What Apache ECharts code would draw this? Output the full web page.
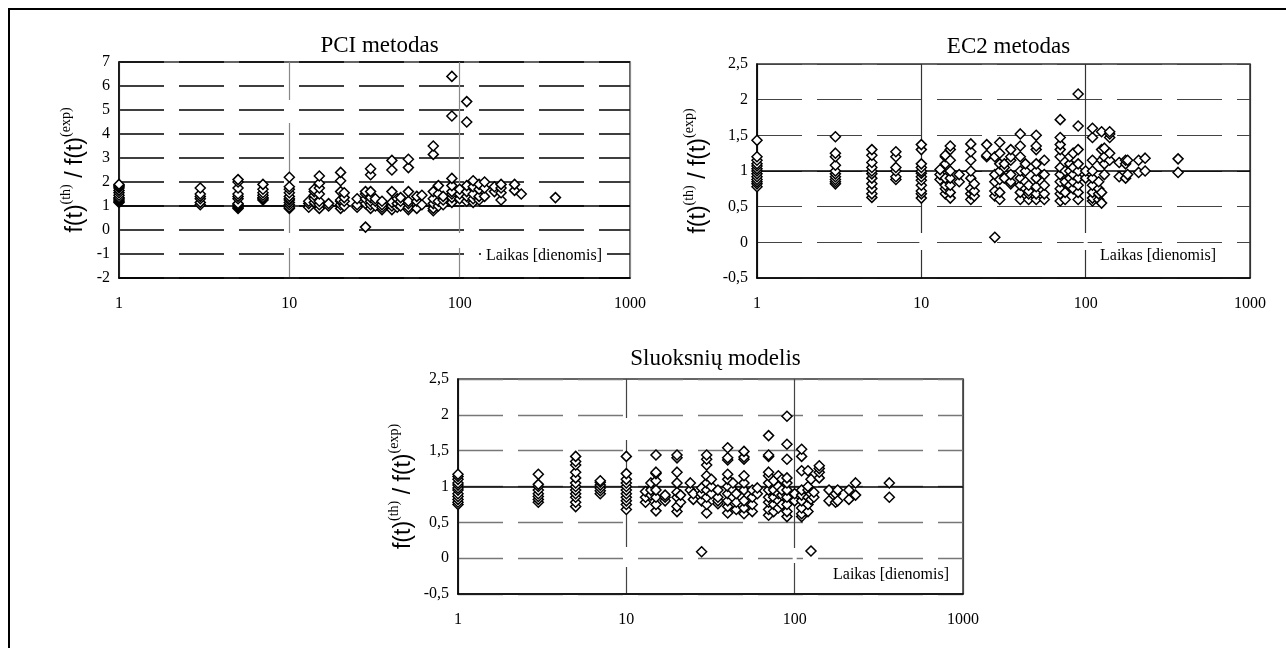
<!DOCTYPE html>
<html>
<head>
<meta charset="utf-8">
<script src="https://cdn.jsdelivr.net/npm/echarts@6/dist/echarts.min.js"></script>
<style>
html, body { margin: 0; padding: 0; background: #fff; }
#charts { width: 1286px; height: 648px; }
</style>
</head>
<body>
<div id="charts"></div>
<script>
// ---- data: days (x) and ratio values (y) ----
var titles = ['PCI metodas', 'EC2 metodas', 'Sluoksnių modelis'];
var xTicks = [1, 10, 100, 1000];

var pciDays = [1, 3, 5, 7, 10, 13, 14, 15, 17, 20, 21, 25, 28, 30, 32, 35, 40, 43, 45, 50, 56, 60, 70, 75, 80, 90, 100, 110, 120, 130, 140, 160, 175, 210, 230, 365];
var pciVals = [
    [1.15, 1.2, 1.25, 1.3, 1.35, 1.45, 1.55, 1.65, 1.75, 1.8, 1.85, 1.9],
    [1.05, 1.15, 1.3, 1.4, 1.5, 1.75],
    [0.9, 0.95, 1.0, 1.05, 1.1, 1.3, 1.4, 1.5, 1.75, 2.0, 2.1],
    [1.25, 1.3, 1.35, 1.45, 1.55, 1.7, 1.9],
    [0.9, 0.95, 1.05, 1.15, 1.25, 1.3, 1.4, 1.55, 1.7, 1.8, 2.2],
    [0.95, 1.1, 1.2],
    [1.15, 1.3, 1.45, 1.6, 1.7],
    [0.9, 1.05, 1.2, 1.5, 1.75, 1.95, 2.25],
    [1.0, 1.1],
    [0.9, 1.05, 1.2, 1.25, 1.6, 2.05, 2.4],
    [1.0, 1.2, 1.35, 1.55],
    [0.95, 1.05, 1.3],
    [0.12, 1.1, 1.3, 1.5, 1.6],
    [0.9, 1.05, 1.2, 1.35, 1.6, 2.3, 2.55],
    [1.0, 1.2, 1.3],
    [0.85, 0.95, 1.05, 1.2],
    [0.85, 1.0, 1.15, 1.6, 2.5, 2.9],
    [0.95, 1.1, 1.3],
    [1.0, 1.2, 1.35],
    [0.85, 0.95, 1.1, 1.2, 1.6, 2.6, 2.95],
    [0.9, 1.2, 1.4],
    [1.05, 1.45],
    [0.8, 0.9, 1.1, 1.3, 1.6, 3.15, 3.5],
    [1.0, 1.2, 1.5, 1.85],
    [1.05, 1.25, 1.4],
    [1.15, 1.35, 1.5, 1.6, 1.85, 2.15, 4.75, 6.4],
    [1.3, 1.5, 1.7],
    [1.2, 1.4, 1.6, 1.85, 4.5, 5.35],
    [1.15, 1.3, 1.5, 1.8, 2.05],
    [1.25, 1.4, 1.7, 1.9],
    [1.4, 1.75, 2.0],
    [1.6, 1.8],
    [1.25, 1.55, 1.75, 1.9],
    [1.65, 1.9],
    [1.5],
    [1.35]
];

var ec2Days = [1, 3, 5, 7, 10, 13, 14, 15, 17, 20, 21, 25, 28, 30, 32, 35, 40, 43, 45, 50, 56, 70, 75, 80, 84, 90, 100, 110, 120, 125, 130, 140, 160, 175, 180, 210, 230, 365];
var ec2Vals = [
    [0.78, 0.82, 0.85, 0.88, 0.92, 0.96, 1.0, 1.03, 1.07, 1.1, 1.15, 1.2, 1.43],
    [0.82, 0.85, 0.88, 0.92, 0.96, 1.0, 1.08, 1.2, 1.25, 1.48],
    [0.63, 0.68, 0.75, 0.82, 0.9, 0.96, 1.0, 1.05, 1.12, 1.22, 1.3],
    [0.88, 0.92, 1.0, 1.05, 1.2, 1.27],
    [0.62, 0.68, 0.72, 0.8, 0.87, 0.92, 0.97, 1.0, 1.05, 1.1, 1.3, 1.37],
    [0.88, 0.95, 1.02],
    [0.68, 0.75, 0.8, 0.9, 1.1, 1.2, 1.22],
    [0.62, 0.7, 0.8, 0.9, 1.0, 1.15, 1.3, 1.35],
    [0.85, 0.95],
    [0.6, 0.68, 0.75, 0.9, 1.0, 1.15, 1.27, 1.38],
    [0.65, 0.72, 0.82],
    [1.2, 1.22, 1.37],
    [0.07, 0.65, 0.72, 0.85, 0.95, 1.2],
    [0.6, 0.7, 0.88, 1.0, 1.1, 1.25, 1.4],
    [0.9, 1.05, 1.1],
    [0.82, 0.85, 0.95, 1.15, 1.2, 1.3],
    [0.6, 0.7, 0.8, 0.9, 1.0, 1.2, 1.35, 1.52],
    [0.75, 0.85, 1.0, 1.1],
    [0.6, 0.68, 0.72, 0.8],
    [0.6, 0.68, 0.78, 0.9, 1.0, 1.1, 1.3, 1.35, 1.5],
    [0.6, 0.68, 0.8, 0.95, 1.15],
    [0.58, 0.68, 0.75, 0.85, 0.95, 1.05, 1.2, 1.3, 1.37, 1.47, 1.72],
    [0.6, 0.7, 0.85, 1.0],
    [0.8, 0.9, 1.0, 1.1, 1.2],
    [0.75, 0.85, 0.95, 1.05, 1.25],
    [0.6, 0.7, 0.8, 0.9, 1.0, 1.1, 1.3, 1.63, 2.08],
    [0.9, 1.0],
    [0.58, 0.62, 0.7, 0.8, 0.9, 1.0, 1.15, 1.47, 1.6],
    [0.6, 0.68, 0.75, 0.85],
    [0.55, 0.7, 1.15, 1.3, 1.55],
    [0.95, 1.1, 1.2, 1.32],
    [1.15, 1.25, 1.47, 1.52, 1.55],
    [0.92, 1.12],
    [0.9, 1.1, 1.15],
    [0.95, 1.15],
    [0.98, 1.15],
    [1.0, 1.18],
    [0.98, 1.17]
];

var slDays = [1, 3, 5, 7, 10, 13, 14, 15, 17, 20, 21, 24, 25, 28, 30, 32, 35, 40, 43, 45, 50, 56, 60, 70, 75, 80, 84, 90, 100, 110, 120, 125, 130, 140, 160, 175, 180, 210, 230, 365];
var slVals = [
    [0.75, 0.78, 0.82, 0.86, 0.9, 0.95, 0.98, 1.02, 1.05, 1.1, 1.14, 1.17],
    [0.78, 0.82, 0.86, 0.9, 0.95, 1.0, 1.03, 1.17],
    [0.72, 0.78, 0.85, 0.9, 0.95, 1.0, 1.05, 1.12, 1.2, 1.3, 1.35, 1.42],
    [0.9, 0.94, 0.98, 1.02, 1.06, 1.08],
    [0.68, 0.75, 0.8, 0.85, 0.9, 0.95, 1.0, 1.05, 1.1, 1.18, 1.42],
    [0.78, 0.85, 0.93],
    [0.88, 0.95, 1.05],
    [0.66, 0.75, 0.85, 0.95, 1.08, 1.18, 1.2, 1.44],
    [0.8, 0.85, 0.88],
    [0.65, 0.72, 0.85, 0.92, 1.05, 1.2, 1.4, 1.44],
    [0.78, 0.88],
    [0.95, 1.05],
    [0.82, 0.9],
    [0.09, 0.8, 0.9, 0.98],
    [0.63, 0.75, 0.85, 0.95, 1.05, 1.15, 1.3, 1.38, 1.44],
    [0.9, 1.0, 1.1],
    [0.76, 0.8, 0.85, 0.95],
    [0.63, 0.72, 0.8, 0.9, 1.0, 1.1, 1.17, 1.37, 1.4, 1.54],
    [0.85, 0.95, 1.05],
    [0.68, 0.78, 0.9],
    [0.62, 0.7, 0.8, 0.95, 1.05, 1.15, 1.38, 1.41, 1.49],
    [0.65, 0.75, 0.85, 0.95],
    [0.9, 0.98],
    [0.6, 0.68, 0.78, 0.85, 0.95, 1.05, 1.15, 1.2, 1.42, 1.44, 1.71],
    [0.65, 0.75, 0.85, 0.95, 1.08],
    [0.7, 0.8, 0.9, 1.0, 1.15],
    [0.75, 0.88, 0.95, 1.1],
    [0.58, 0.65, 0.75, 0.85, 0.95, 1.05, 1.12, 1.38, 1.59, 1.98],
    [0.8, 0.9],
    [0.58, 0.62, 0.7, 0.8, 0.88, 0.95, 1.22, 1.42, 1.52],
    [0.65, 0.75, 0.85, 0.95, 1.0, 1.22],
    [0.1, 0.82, 0.9, 1.1],
    [0.85, 0.92],
    [1.12, 1.2, 1.25, 1.29],
    [0.8, 0.95],
    [0.78, 0.9],
    [0.8, 0.95],
    [0.82, 0.95],
    [0.88, 1.05],
    [0.85, 1.05]
];

var myChart = echarts.init(document.getElementById('charts'));

function points(days, vals) {
    var out = [];
    for (var i = 0; i < days.length; i++) {
        for (var j = 0; j < vals[i].length; j++) {
            out.push([days[i], vals[i][j]]);
        }
    }
    return out;
}

var serif = 'Liberation Serif';
var grids = [
    { left: 119, top: 62, width: 511, height: 216 },
    { left: 757, top: 64, width: 493, height: 214 },
    { left: 458, top: 379, width: 505, height: 215 }
];
var titleTops = [29, 30, 342];
var yRanges = [[-2, 7, 1], [-0.5, 2.5, 0.5], [-0.5, 2.5, 0.5]];
var gridColor = ['#000', '#444', '#777'];
var gridWidth = [1.6, 1, 1.4];
var vColor = ['#888', '#333', '#444'];
var nameGaps = [32, 47, 43];
// breaks in the vertical 10/100 lines of the original: [panel, day, y from, y to]
var vGaps = [[0, 10, 100, 123], [0, 10, 233, 248], [0, 100, 233, 248],
             [1, 10, 233, 250], [1, 100, 233, 250],
             [2, 10, 418, 440], [2, 10, 547, 567], [2, 100, 548, 563]];

var yName = '{f|f(t)}{s|(th)}{f| / f(t)}{s|(exp)}';
var yRich = {
    f: { fontFamily: 'Liberation Sans', fontSize: 23, color: '#000', lineHeight: 28, verticalAlign: 'bottom' },
    s: { fontFamily: serif, fontSize: 14, color: '#000', lineHeight: 28, verticalAlign: 'top' }
};

var xAxes = [], yAxes = [], series = [], titleList = [];
var allData = [points(pciDays, pciVals), points(ec2Days, ec2Vals), points(slDays, slVals)];

for (var k = 0; k < 3; k++) {
    var g = grids[k];
    g.show = true;
    g.borderColor = '#333';
    g.borderWidth = 1.5;
    g.backgroundColor = '#fff';

    titleList.push({
        text: titles[k],
        left: g.left + g.width / 2,
        top: titleTops[k],
        textAlign: 'center',
        textStyle: { fontFamily: serif, fontSize: 23, fontWeight: 'normal', color: '#000' }
    });

    xAxes.push({
        type: 'log',
        logBase: 10,
        gridIndex: k,
        min: xTicks[0],
        max: xTicks[xTicks.length - 1],
        axisLine: { onZero: false, lineStyle: { color: '#000', width: 1.5 } },
        axisTick: { show: false },
        axisLabel: {
            margin: 18, fontFamily: serif, fontSize: 16, color: '#000',
            formatter: function (v) { return String(v); }
        },
        splitLine: { show: true, lineStyle: { color: vColor[k], width: 1.2, type: 'solid' } },
        minorSplitLine: { show: false }
    });

    yAxes.push({
        type: 'value',
        gridIndex: k,
        min: yRanges[k][0],
        max: yRanges[k][1],
        interval: yRanges[k][2],
        name: yName,
        nameLocation: 'middle',
        nameRotate: 90,
        nameGap: nameGaps[k],
        nameTextStyle: { rich: yRich },
        axisLine: { show: true, lineStyle: { color: '#000', width: 1.5 } },
        axisTick: { show: false },
        axisLabel: {
            margin: 9, fontFamily: serif, fontSize: 16, color: '#000',
            formatter: function (v) { return String(v).replace('.', ','); }
        },
        splitLine: { show: true, lineStyle: { color: gridColor[k], width: gridWidth[k], type: [45, 15] } }
    });

    series.push({
        type: 'scatter',
        xAxisIndex: k,
        yAxisIndex: k,
        symbol: 'diamond',
        symbolSize: [10, 10],
        itemStyle: { color: '#fff', borderColor: '#000', borderWidth: 1.5, opacity: 1 },
        emphasis: { disabled: true },
        data: allData[k],
        markLine: {
            silent: true,
            symbol: 'none',
            label: { show: false },
            lineStyle: { color: '#000', width: 1.5, type: 'solid' },
            data: [{ yAxis: 1 }],
            z: 1
        },
        z: 3
    });
}

function laikas(x, y) {
    return {
        type: 'text',
        left: x,
        top: y,
        z: 100,
        style: {
            text: 'Laikas [dienomis]',
            font: '16px "Liberation Serif"',
            fill: '#000',
            backgroundColor: '#fff',
            padding: [1, 5, 1, 5]
        }
    };
}

var graphics = [
    {
        type: 'rect',
        shape: { x: 9, y: 9, width: 1400, height: 800 },
        style: { fill: 'none', stroke: '#000', lineWidth: 2 },
        z: 100
    },
    laikas(481, 247),
    laikas(1095, 247),
    laikas(828, 566)
];

option = {
    backgroundColor: '#fff',
    animation: false,
    title: titleList,
    grid: grids,
    xAxis: xAxes,
    yAxis: yAxes,
    series: series,
    graphic: graphics
};
myChart.setOption(option);

// white breaks over the vertical split lines, placed through the axis scale
vGaps.forEach(function (gp) {
    var px = myChart.convertToPixel({ xAxisIndex: gp[0], yAxisIndex: gp[0] }, [gp[1], 1])[0];
    graphics.push({
        type: 'rect',
        shape: { x: px - 2, y: gp[2], width: 4, height: gp[3] - gp[2] },
        style: { fill: '#fff' },
        z: 1
    });
});
myChart.setOption({ graphic: graphics });
</script>
</body>
</html>
